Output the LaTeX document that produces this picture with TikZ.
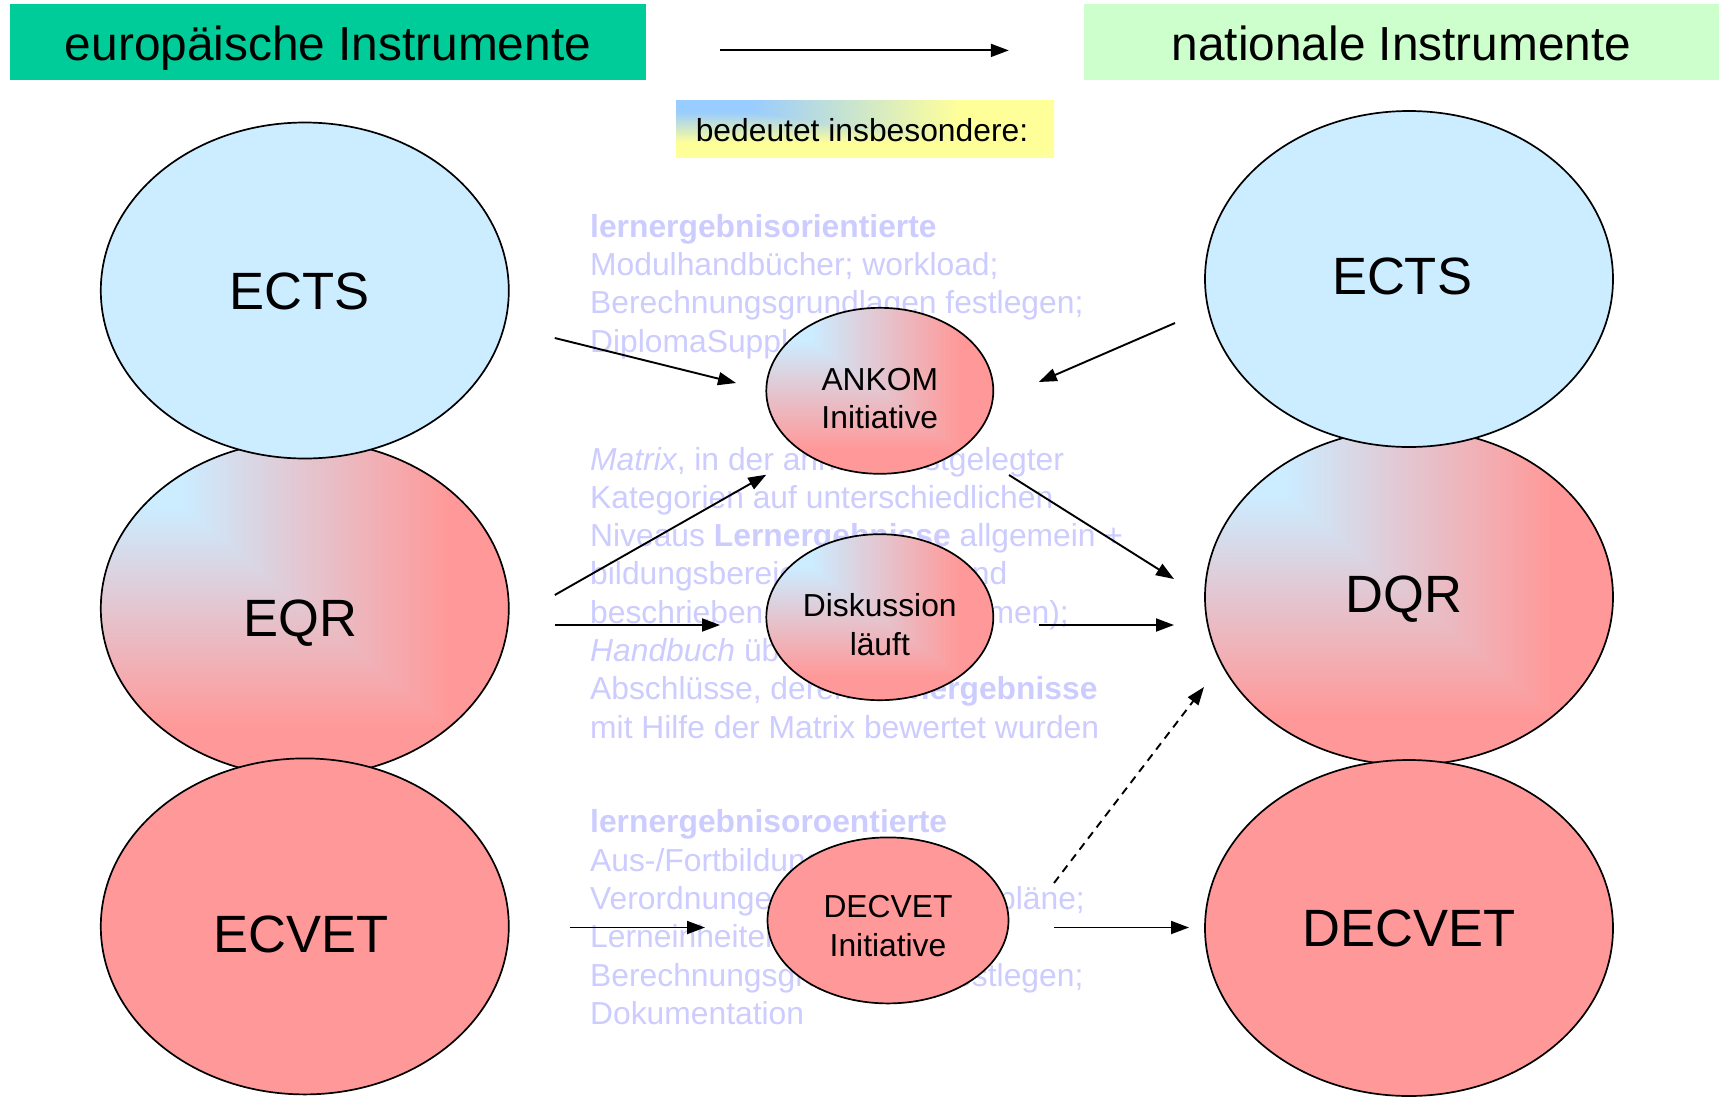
\documentclass[tikz,border=0pt]{standalone}
\usepackage{fontspec}
\setmainfont{Liberation Sans}
\usetikzlibrary{arrows.meta,calc,shapes.geometric}

\definecolor{hdrgreen}{RGB}{0,204,153}
\definecolor{hdrlight}{RGB}{204,255,204}
\definecolor{ltblue}{RGB}{204,236,255}
\definecolor{pinkred}{RGB}{255,153,153}
\definecolor{fadeblue}{RGB}{204,204,255}

\pgfdeclarefunctionalshading{cornergrad}{\pgfpoint{-50bp}{-50bp}}{\pgfpoint{50bp}{50bp}}{}{%
  exch 25 add exch 25 exch sub 2 copy lt {exch} if pop 50 div
  0.2 sub 0.65 div dup 0 lt {pop 0} if dup 1 gt {pop 1} if
  dup 0.2 mul 0.8 add exch dup -0.325 mul 0.925 add exch -0.4 mul 1 add}

\pgfdeclarefunctionalshading{boxgrad}{\pgfpoint{-50bp}{-50bp}}{\pgfpoint{50bp}{50bp}}{}{%
  exch 25 add exch 25 exch sub 2 copy lt {exch} if pop 50 div
  0.2 sub 0.55 div dup 0 lt {pop 0} if dup 1 gt {pop 1} if
  dup 0.4 mul 0.6 add exch dup 0.2 mul 0.8 add exch -0.4 mul 1 add}

\tikzset{
  hdr/.style={rectangle, inner sep=0pt, minimum width=636pt, minimum height=75.6pt,
    font=\fontsize{47.8}{57}\selectfont, text height=36.2pt, text depth=0pt},
  bigell/.style={ellipse, draw=black, line width=1.7pt, minimum width=408pt,
    minimum height=336pt, inner sep=0pt, font=\fontsize{52.5}{60}\selectfont},
  smallell/.style={ellipse, draw=black, line width=1.7pt, minimum height=166pt,
    inner sep=0pt},
  smalltxt/.style={inner sep=0pt, align=center, font=\fontsize{31.8}{38.4}\selectfont},
  faded/.style={anchor=base west, inner sep=0pt, text=fadeblue,
    font=\fontsize{31.8}{38.3}\selectfont},
  fadedr/.style={faded, anchor=base east},
  arr/.style={-{Triangle[length=18pt,width=13pt]}, line width=1.9pt},
}

\begin{document}
\begin{tikzpicture}[x=1pt,y=-1pt]
\useasboundingbox (0,0) rectangle (1719,1096);
\fill[white] (0,0) rectangle (1719,1096);

% headers
\node[hdr, fill=hdrgreen] (hdrL) at (328,42.2) {europäische Instrumente};
\node[hdr, fill=hdrlight, minimum width=635pt] (hdrR) at (1401.5,42.2) {nationale Instrumente};
\node[rectangle, inner sep=0pt, minimum width=378pt, minimum height=57pt, shading=boxgrad,
  font=\fontsize{31.8}{38}\selectfont, text height=25pt, text depth=0pt] (box) at (865,128.5) {bedeutet insbesondere:\kern6pt};

% faded text block 1
\node[faded] (t1a) at (590,237) {\textbf{lernergebnisorientierte}};
\node[faded] (t1b) at (590,275.4) {Modulhandbücher; workload;};
\node[faded] (t1c) at (590,313.7) {Berechnungsgrundlagen festlegen;};
\node[faded] (t1d) at (590,352) {DiplomaSuppl};

% faded text block 2
\node[faded] (t2a) at (590,470) {\textit{Matrix}, in der anhand festgelegter};
\node[faded] (t2b) at (590,508.3) {Kategorien auf unterschiedlichen};
\node[faded] (t2c) at (590,546.6) {Niveaus \textbf{Lernergebnisse} allgemein +};
\node[faded] (t2d) at (590,584.9) {bildungsbereichsübergreifend};
\node[faded] (t2e) at (590,623.2) {beschrieben};
\node[fadedr] (t2e2) at (1069,623.2) {men);};
\node[faded] (t2f) at (590,661.5) {\textit{Handbuch} über};
\node[faded] (t2g) at (590,699.8) {Abschlüsse, deren \textbf{Lernergebnisse}};
\node[faded] (t2h) at (590,738.1) {mit Hilfe der Matrix bewertet wurden};

% faded text block 3
\node[faded] (t3a) at (590,832.8) {\textbf{lernergebnisoroentierte}};
\node[faded] (t3b) at (590,871.1) {Aus-/Fortbildungs-};
\node[faded] (t3c) at (590,909.4) {Verordnungen};
\node[fadedr] (t3c2) at (1085,909.4) {pläne;};
\node[faded] (t3d) at (590,947.7) {Lerneinheiten};
\node[faded] (t3e) at (590,986) {Berechnungsgrundlagen festlegen;};
\node[faded] (t3f) at (590,1024.3) {Dokumentation};

% big ellipses left
\node[bigell, shading=cornergrad, text height=55.6pt, text depth=0pt] (eqrL) at (304.8,608.5) {EQR\kern9pt};
\node[bigell, fill=ltblue, text height=37.6pt, text depth=0pt] (ectsL) at (304.8,290.5) {ECTS\kern11pt};
\node[bigell, fill=pinkred, text height=53pt, text depth=0pt] (ecvetL) at (304.8,926.4) {ECVET\kern8pt};

% big ellipses right
\node[bigell, shading=cornergrad, text height=37.6pt, text depth=6pt] (dqrR) at (1409,597) {DQR\kern10pt};
\node[bigell, fill=ltblue, text height=37.6pt, text depth=6pt] (ectsR) at (1409,279) {ECTS\kern14pt};
\node[bigell, fill=pinkred, text height=37.6pt, text depth=0pt] (decvetR) at (1409,928) {DECVET};

% small ellipses
\node[smallell, minimum width=227pt, shading=cornergrad] (ankom) at (879.8,390.8) {};
\node[smalltxt] (ankomtxt) at ($(ankom.center)+(0,7.7)$) {ANKOM\\Initiative};
\node[smallell, minimum width=227pt, shading=cornergrad] (disk) at (879.8,617.2) {};
\node[smalltxt] (disktxt) at ($(disk.center)+(0,7.4)$) {Diskussion\\läuft};
\node[smallell, minimum width=241pt, fill=pinkred] (decvetI) at (888,920.4) {};
\node[smalltxt] (decvetItxt) at ($(decvetI.center)+(0,5.8)$) {DECVET\\Initiative};

% connectors
\draw[arr] ($(hdrL.east)+(74,8.2)$) -- ($(hdrR.west)+(-75,8.2)$);
\draw[arr] ($(ectsL.center)+(250,47.5)$) -- ($(ankom.center)+(-143.8,-7.8)$);
\draw[arr] ($(ectsR.center)+(-234,44)$) -- ($(ankom.center)+(159,-8.8)$);
\draw[arr] ($(eqrL.center)+(250,-13.5)$) -- ($(ankom.center)+(-113.5,83.9)$);
\draw[arr] ($(eqrL.center)+(250,16.5)$) -- ($(disk.center)+(-159.8,7.8)$);
\draw[arr] ($(ankom.center)+(129.2,84.2)$) -- ($(dqrR.center)+(-235,-18)$);
\draw[arr] ($(disk.center)+(159.2,7.8)$) -- ($(dqrR.center)+(-235,28)$);
\draw[arr] ($(ecvetL.center)+(265,1.1)$) -- ($(decvetI.center)+(-183,7.1)$);
\draw[arr] ($(decvetI.center)+(166,7.1)$) -- ($(decvetR.center)+(-220,-0.5)$);
\draw[arr, dash pattern=on 8pt off 6pt] ($(decvetI.center)+(166,-37.4)$) -- ($(dqrR.center)+(-205,90)$);
\end{tikzpicture}
\end{document}
